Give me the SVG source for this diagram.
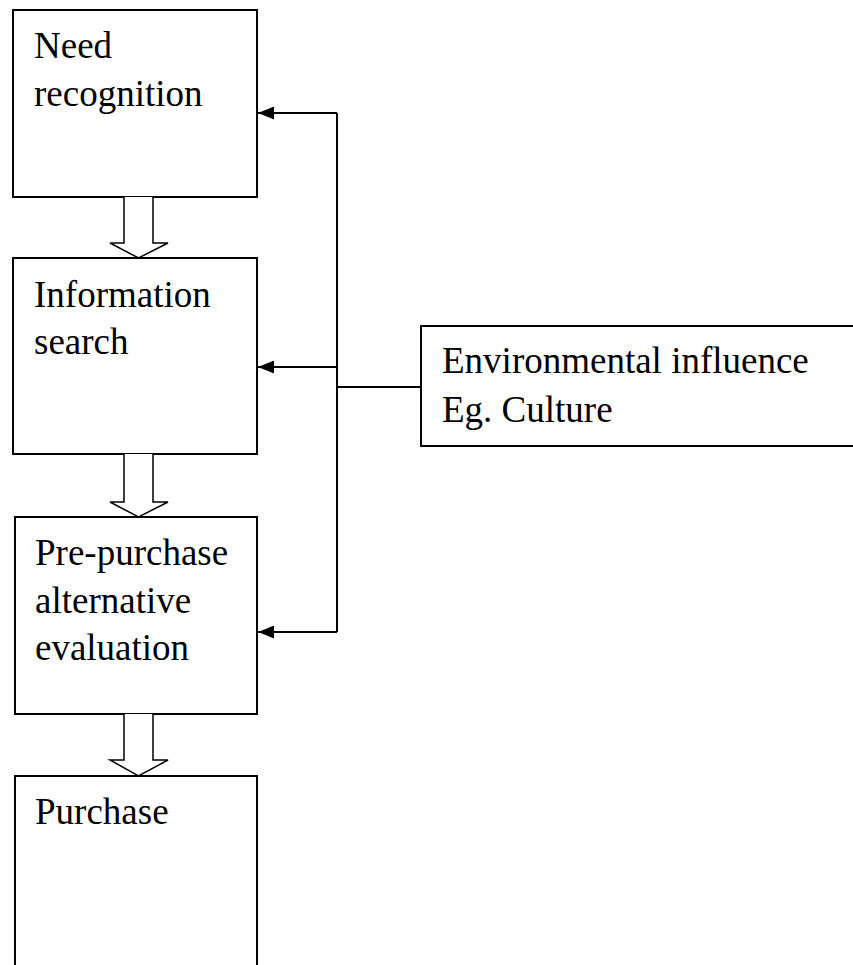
<svg xmlns="http://www.w3.org/2000/svg" width="853" height="965" viewBox="0 0 853 965">
<style>
.box{fill:#fff;stroke:#000;stroke-width:2}
.t{font-size:37px;fill:#000}
.ln{fill:none;stroke:#000;stroke-width:2}
.big{fill:#fff;stroke:#000;stroke-width:1.5;stroke-linejoin:miter}
</style>
<defs>
<marker id="ah" markerWidth="17" markerHeight="13" refX="16" refY="6.5" orient="auto" markerUnits="userSpaceOnUse">
<path d="M0,0 L16,6.5 L0,13 Z" fill="#000"/>
</marker>
</defs>
<rect width="853" height="965" fill="#fff"/>
<g id="need" font-family="'Liberation Serif', 'DejaVu Serif', serif">
<rect class="box" x="13" y="10" width="244" height="187"/>
<text class="t" x="34" y="58">Need</text>
<text class="t" x="34" y="106">recognition</text>
</g>
<g id="info" font-family="'Liberation Serif', 'DejaVu Serif', serif">
<rect class="box" x="13" y="258" width="244" height="196"/>
<text class="t" x="34" y="307">Information</text>
<text class="t" x="34" y="354">search</text>
</g>
<g id="prepurchase" font-family="'Liberation Serif', 'DejaVu Serif', serif">
<rect class="box" x="15" y="517" width="242" height="197"/>
<text class="t" x="35" y="565">Pre-purchase</text>
<text class="t" x="35" y="613">alternative</text>
<text class="t" x="35" y="660">evaluation</text>
</g>
<g id="purchase" font-family="'Liberation Serif', 'DejaVu Serif', serif">
<rect class="box" x="15" y="776" width="242" height="200"/>
<text class="t" x="35" y="824">Purchase</text>
</g>
<g id="env" font-family="'Liberation Serif', 'DejaVu Serif', serif">
<rect class="box" x="421" y="326" width="440" height="120"/>
<text class="t" x="442" y="373">Environmental influence</text>
<text class="t" x="442" y="422">Eg. Culture</text>
</g>
<g id="connectors">
<path class="big" d="M124,197 L124,243 L110,243 L138.5,258 L168,243 L153,243 L153,197"/>
<path class="big" d="M124,454 L124,502 L110,502 L138.5,517 L168,502 L153,502 L153,454"/>
<path class="big" d="M124,714 L124,760 L110,760 L138.5,776 L168,760 L153,760 L153,714"/>
<path class="ln" d="M337,113 L337,632"/>
<path class="ln" d="M337,113 L258,113" marker-end="url(#ah)"/>
<path class="ln" d="M337,367 L258,367" marker-end="url(#ah)"/>
<path class="ln" d="M337,632 L258,632" marker-end="url(#ah)"/>
<path class="ln" d="M421,387 L337,387"/>
</g>
</svg>
